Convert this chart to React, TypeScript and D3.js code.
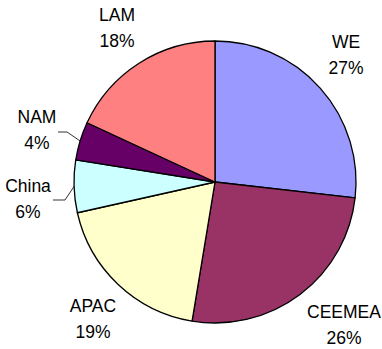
import React from "react";
import * as d3 from "d3";

const regions = ["WE", "CEEMEA", "APAC", "China", "NAM", "LAM"];
const shares = [26.8, 25.8, 18.9, 6.0, 4.4, 18.1];
const pctLabels = ["27%", "26%", "19%", "6%", "4%", "18%"];
const colors = ["#9999FF", "#993366", "#FFFFCC", "#CCFFFF", "#660066", "#FF8080"];

const W = 382;
const H = 349;
const CX = 215;
const CY = 182;
const R = 141;

// label layout: [centerX, firstBaselineY]
const labelLayout: Record<string, [number, number]> = {
  WE: [346, 48],
  CEEMEA: [344, 318],
  APAC: [93, 312],
  China: [28, 192],
  NAM: [37, 123],
  LAM: [117, 21],
};
// leader lines: elbow start x, elbow end x, y for small slices
const leaderLayout: Record<string, [number, number, number]> = {
  China: [53, 65, 200],
  NAM: [58, 67, 132],
};

export default function App() {
  const pie = d3
    .pie<number>()
    .sort(null)
    .value((d) => d)
    .startAngle(0)
    .endAngle(2 * Math.PI);
  const arcs = pie(shares);
  const arc = d3.arc<d3.PieArcDatum<number>>().innerRadius(0).outerRadius(R);

  return (
    <div style={{ position: "absolute", left: 0, top: 0 }}>
      <svg width={W} height={H} style={{ display: "block", background: "#fff" }}>
        <g transform={`translate(${CX},${CY})`}>
          {arcs.map((a, i) => (
            <path
              key={regions[i]}
              d={arc(a) || ""}
              fill={colors[i]}
              stroke="#000"
              strokeWidth={1.3}
              strokeLinejoin="round"
            />
          ))}
        </g>
        {arcs.map((a, i) => {
          const name = regions[i];
          const ld = leaderLayout[name];
          if (!ld) return null;
          const mid = (a.startAngle + a.endAngle) / 2;
          const ex = CX + R * Math.sin(mid);
          const ey = CY - R * Math.cos(mid);
          return (
            <polyline
              key={"l" + name}
              points={`${ld[0]},${ld[2]} ${ld[1]},${ld[2]} ${ex},${ey}`}
              fill="none"
              stroke="#000"
              strokeWidth={0.8}
            />
          );
        })}
        {regions.map((name, i) => {
          const [x, y] = labelLayout[name];
          return (
            <g
              key={"t" + name}
              fontFamily="'Liberation Sans', Arial, sans-serif"
              fontSize={17.5}
              fill="#000"
              textAnchor="middle"
            >
              <text x={x} y={y}>{name}</text>
              <text x={x} y={y + 26}>{pctLabels[i]}</text>
            </g>
          );
        })}
      </svg>
    </div>
  );
}
